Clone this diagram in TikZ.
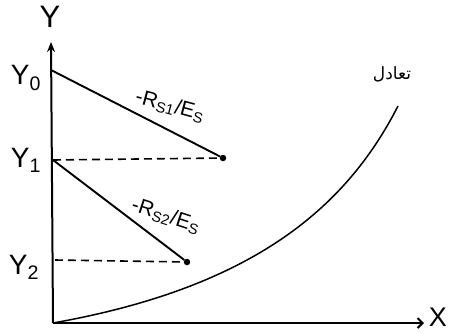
\documentclass[tikz,border=0pt]{standalone}
\usepackage{fontspec}
\setmainfont{Liberation Sans}
\newfontfamily\arabicfont[Script=Arabic]{DejaVu Sans}
\TeXXeTstate=1
\usetikzlibrary{arrows.meta}
\begin{document}
\begin{tikzpicture}[x=1pt,y=-1pt,
  axisline/.style={line width=2pt},
  solidline/.style={line width=1.9pt},
  dashline/.style={line width=1.6pt, dash pattern=on 8pt off 5pt},
  dot/.style={circle, fill=black, inner sep=0pt, minimum size=6.5pt},
  biglab/.style={font=\fontsize{31}{33}\selectfont, inner sep=0pt},
  ylab/.style={font=\fontsize{28}{30}\selectfont, inner sep=0pt},
  slope/.style={font=\fontsize{21}{23}\selectfont, inner sep=0pt}]
\useasboundingbox (0,0) rectangle (456,333);
% key points
\coordinate (O) at (53,323);
\coordinate (Ytop) at (51,42);
\coordinate (Xend) at (424,323);
\coordinate (Y0pt) at (51,70);
\coordinate (Y1pt) at (53,160);
\coordinate (Y2pt) at (55,260);
\coordinate (Cend) at (398,106);
\node[dot] (P1) at (223,158) {};
\node[dot] (P2) at (187,262) {};
% axes
\draw[axisline, -{Stealth[length=10pt,width=8pt]}] (O) -- (Ytop);
\draw[axisline, -{Straight Barb[length=5pt,width=10pt]}] (O) -- (Xend);
\node[biglab] (ylabel) at (50,17) {Y};
\node[font=\fontsize{27}{29}\selectfont, inner sep=0pt] (xlabel) at (438,317) {X};
% Y-axis labels
\node[ylab] (y0) at (26,78) {Y\textsubscript{0}};
\node[ylab] (y1) at (26,160) {Y\textsubscript{1}};
\node[ylab] (y2) at (24,267) {Y\textsubscript{2}};
% operating lines
\draw[solidline] (Y0pt) -- (P1);
\draw[solidline] (Y1pt) -- (P2);
\draw[dashline] (Y1pt) -- (P1);
\draw[dashline] (Y2pt) -- (P2);
\node[slope, rotate=-15] (s1) at (170,106) {-R\textsubscript{S1}/E\textsubscript{S}};
\node[slope, rotate=-18] (s2) at (166,216) {-R\textsubscript{S2}/E\textsubscript{S}};
% equilibrium curve
\draw[solidline, line width=1.5pt] (O) .. controls (250,288) and (345,210) .. (Cend);
\node[font=\arabicfont\fontsize{17}{19}\selectfont, inner sep=0pt] (eq) at (392,74) {\beginR تعادل\endR};
\end{tikzpicture}
\end{document}
